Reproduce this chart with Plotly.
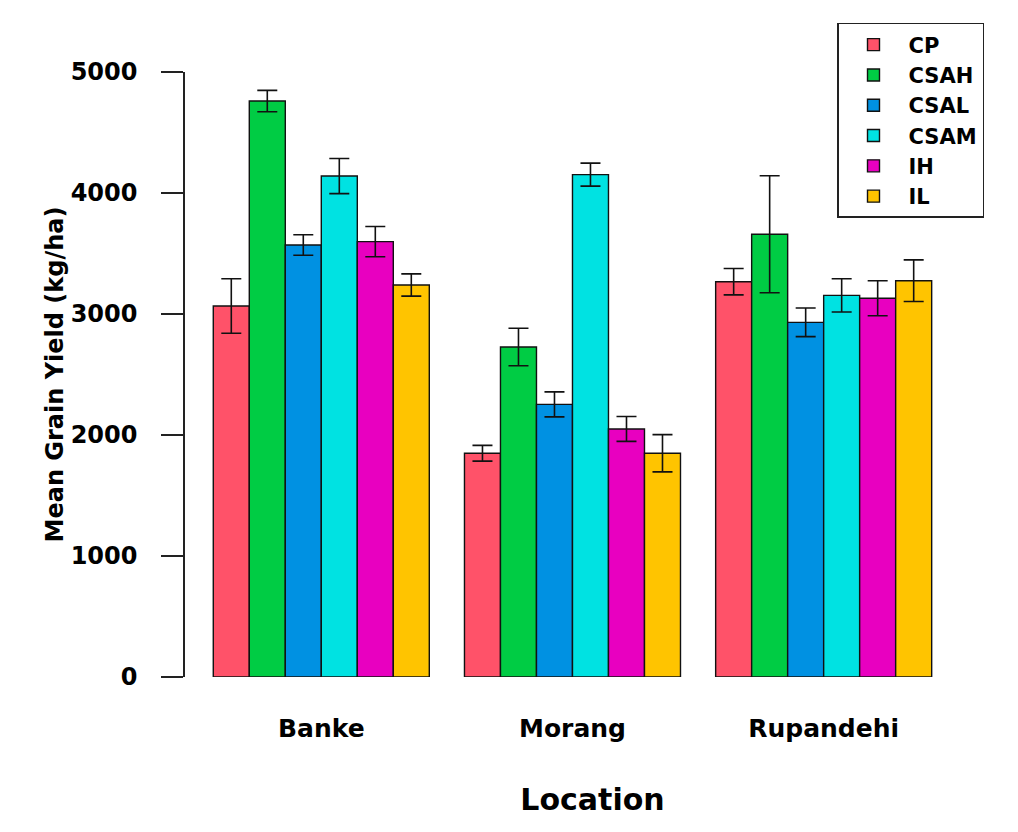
import plotly.graph_objects as go

locations = ["Banke", "Morang", "Rupandehi"]
treatments = ["CP", "CSAH", "CSAL", "CSAM", "IH", "IL"]

cp = [3066, 1849, 3267]
csah = [4760, 2727, 3659]
csal = [3570, 2253, 2931]
csam = [4140, 4152, 3154]
ih = [3598, 2050, 3130]
il = [3240, 1849, 3275]

cp_err = [225, 65, 109]
csah_err = [88, 155, 483]
csal_err = [85, 103, 118]
csam_err = [145, 95, 137]
ih_err = [125, 103, 145]
il_err = [92, 154, 172]

colors = ["#FF5269", "#00CC44", "#0091E2", "#00E2E2", "#E800C0", "#FFC400"]

y_ticks = [0, 1000, 2000, 3000, 4000, 5000]

series = [cp, csah, csal, csam, ih, il]
errors = [cp_err, csah_err, csal_err, csam_err, ih_err, il_err]

FONT = "DejaVu Sans"

fig = go.Figure()
for name, vals, errs, col in zip(treatments, series, errors, colors):
    fig.add_trace(go.Bar(
        name=name, x=locations, y=vals,
        marker=dict(color=col, line=dict(color="#111111", width=1.4)),
        error_y=dict(type="data", array=errs, visible=True,
                     color="#111111", thickness=1.6, width=10),
    ))

fig.update_layout(
    width=1018, height=832,
    barmode="group", bargap=0.14, bargroupgap=0,
    plot_bgcolor="white", paper_bgcolor="white",
    margin=dict(l=177, r=26, t=64, b=163),
    font=dict(family=FONT, color="black"),
    showlegend=True,
    legend=dict(
        x=0.8, y=1.081, xanchor="left", yanchor="top",
        bgcolor="white", bordercolor="#222222", borderwidth=1.5,
        font=dict(family=FONT, size=21, color="black", weight="bold"),
        tracegroupgap=0, itemwidth=60,
    ),
    xaxis=dict(
        type="category", range=[-0.5426, 2.702],
        showline=False, ticks="", showgrid=False, zeroline=False,
        tickfont=dict(family=FONT, size=25, color="black", weight="bold"),
        ticklabelstandoff=34,
        title=dict(text="Location", standoff=46,
                   font=dict(family=FONT, size=30, color="black", weight="bold")),
    ),
    yaxis=dict(
        range=[0, 5000], tickvals=y_ticks,
        showline=True, linecolor="#222222", linewidth=1.5,
        ticks="outside", ticklen=22, tickwidth=1.5, tickcolor="#222222",
        showgrid=False, zeroline=False,
        tickfont=dict(family=FONT, size=24, color="black", weight="bold"),
        ticklabelstandoff=19,
        title=dict(text="Mean Grain Yield (kg/ha)", standoff=0,
                   font=dict(family=FONT, size=24, color="black", weight="bold")),
    ),
)

fig.write_html("out.html")
